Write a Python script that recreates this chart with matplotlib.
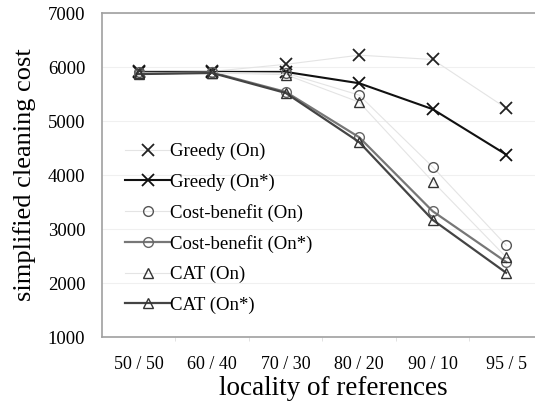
import matplotlib.pyplot as plt

plt.rcParams['font.family'] = ['Liberation Serif', 'DejaVu Serif']

# === Data ===
categories = ["50 / 50", "60 / 40", "70 / 30", "80 / 20", "90 / 10", "95 / 5"]

greedy_on = [5920, 5920, 6050, 6220, 6140, 5240]
greedy_on_star = [5910, 5910, 5910, 5700, 5220, 4380]
cb_on = [5900, 5900, 5890, 5480, 4150, 2700]
cb_on_star = [5880, 5900, 5540, 4700, 3330, 2390]
cat_on = [5890, 5890, 5860, 5350, 3880, 2480]
cat_on_star = [5870, 5890, 5520, 4610, 3170, 2190]

# === Plot ===
fig = plt.figure(figsize=(5.35, 4.08), dpi=100)
ax = fig.add_axes([0.1907, 0.174, 0.824, 0.794])

x = range(len(categories))
faint = "#e4e4e4"
ms_kw = dict(markerfacecolor="none", markeredgewidth=1.0)

ax.plot(x, greedy_on, color=faint, lw=0.8, marker="x", ms=9,
        markeredgecolor="#222222", markeredgewidth=1.3, label="Greedy (On)")
ax.plot(x, greedy_on_star, color="#111111", lw=1.5, marker="x", ms=9,
        markeredgecolor="#111111", markeredgewidth=1.3, label="Greedy (On*)")
ax.plot(x, cb_on, color=faint, lw=0.8, marker="o", ms=7,
        markeredgecolor="#555555", label="Cost-benefit (On)", **ms_kw)
ax.plot(x, cb_on_star, color="#777777", lw=1.6, marker="o", ms=7,
        markeredgecolor="#666666", label="Cost-benefit (On*)", **ms_kw)
ax.plot(x, cat_on, color=faint, lw=0.8, marker="^", ms=7,
        markeredgecolor="#333333", label="CAT (On)", **ms_kw)
ax.plot(x, cat_on_star, color="#444444", lw=1.6, marker="^", ms=7,
        markeredgecolor="#333333", label="CAT (On*)", **ms_kw)

ax.set_xlim(-0.5, len(categories) - 0.5)
ax.set_ylim(1000, 7000)
ax.set_yticks(range(1000, 7001, 1000))
ax.set_xticks(list(x))
ax.set_xticklabels(categories)
ax.set_xticks([i + 0.5 for i in range(len(categories) - 1)], minor=True)
ax.tick_params(axis="x", which="major", length=0, pad=14, labelsize=13)
ax.tick_params(axis="x", which="minor", length=3, color="#dddddd")
ax.tick_params(axis="y", length=0, pad=12, labelsize=13.5)
ax.grid(axis="y", color="#f0f0f0", lw=0.8)

for side in ["left", "bottom", "top"]:
    ax.spines[side].set_color("#a0a0a0")
    ax.spines[side].set_linewidth(1.2)
ax.spines["right"].set_visible(False)

ax.set_ylabel("simplified cleaning cost", fontsize=19)
ax.yaxis.set_label_coords(-0.15, 0.5)
ax.set_xlabel("locality of references", fontsize=19.5)
ax.xaxis.set_label_coords(0.524, -0.12)

ax.legend(loc="lower left", bbox_to_anchor=(0.023, 0.031), frameon=False,
          fontsize=13.5, handlelength=2.4, labelspacing=0.7, handletextpad=0.0,
          borderaxespad=0.3)

plt.savefig("out.png", dpi=100)
